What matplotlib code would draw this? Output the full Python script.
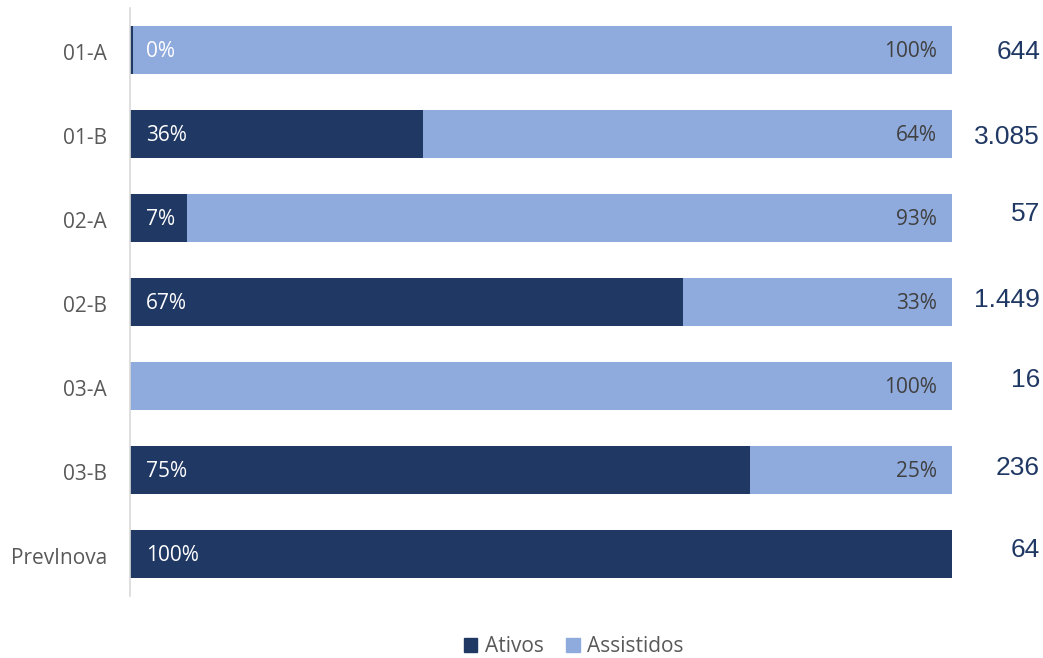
import matplotlib
matplotlib.use("Agg")
import matplotlib.pyplot as plt
from matplotlib.patches import Patch
from matplotlib.transforms import blended_transform_factory, offset_copy, ScaledTranslation

categories = ["01-A", "01-B", "02-A", "02-B", "03-A", "03-B", "PrevInova"]
ativos = [0.4, 35.6, 6.9, 67.3, 0.0, 75.4, 100.0]
assistidos = [99.6, 64.4, 93.1, 32.7, 100.0, 24.6, 0.0]
totals = [644, 3085, 57, 1449, 16, 236, 64]
series_names = ["Ativos", "Assistidos"]

dark = "#203864"
light = "#8FAADC"
gray = "#595959"
font = "Open Sans"
# small manual vertical nudges (points) of the total labels, as in the original
total_nudge = [-1.5, -2.2, 2.8, 1.4, 4.3, 1.4, 2.8]

fig = plt.figure(figsize=(10.43, 6.58), dpi=100)
ax = fig.add_axes([130/1043, 62/658, (952-130)/1043, (596-8)/658])

y = list(range(len(categories)))
h = 0.57
ax.barh(y, ativos, height=h, color=dark, label=series_names[0])
ax.barh(y, assistidos, left=ativos, height=h, color=light, label=series_names[1])

down = offset_copy(ax.transData, fig=fig, x=0, y=-1.3, units="points")
for i in y:
    if ativos[i] > 0:
        ax.text(1.95, i, f"{ativos[i]:.0f}%", color="white", fontsize=15,
                va="center", ha="left", family=font, transform=down)
    if assistidos[i] > 0:
        ax.text(98.2, i, f"{assistidos[i]:.0f}%", color="#404040", fontsize=15,
                va="center", ha="right", family=font, transform=down)

tr = blended_transform_factory(fig.transFigure, ax.transData)
for i in y:
    t = offset_copy(tr, fig=fig, x=0, y=total_nudge[i], units="points")
    ax.text(1040/1043, i, f"{totals[i]:,}".replace(",", "."),
            transform=t, ha="right", va="center", fontsize=19,
            color="#203864", family="Liberation Sans")

ax.set_xlim(0, 100)
ax.set_ylim(len(categories) - 0.5, -0.5)
ax.set_yticks(y)
ax.set_yticklabels(categories, fontsize=15, color=gray, family=font)
ax.tick_params(axis="y", length=0, pad=16.5)
for lbl in ax.get_yticklabels():
    lbl.set_transform(lbl.get_transform() + ScaledTranslation(0, -1.3/72, fig.dpi_scale_trans))
ax.set_xticks([])
for s in ["top", "right", "bottom"]:
    ax.spines[s].set_visible(False)
ax.spines["left"].set_color("#D9D9D9")
ax.spines["left"].set_linewidth(1.2)

handles = [Patch(color=dark), Patch(color=light)]
fig.legend(handles, series_names, loc="center", bbox_to_anchor=(0.55, (658-647)/658),
           ncol=2, frameon=False, prop={"family": font, "size": 15}, labelcolor=gray,
           handlelength=0.65, handleheight=0.65, handletextpad=0.35, columnspacing=1.1)

fig.savefig("out.png", dpi=100)
